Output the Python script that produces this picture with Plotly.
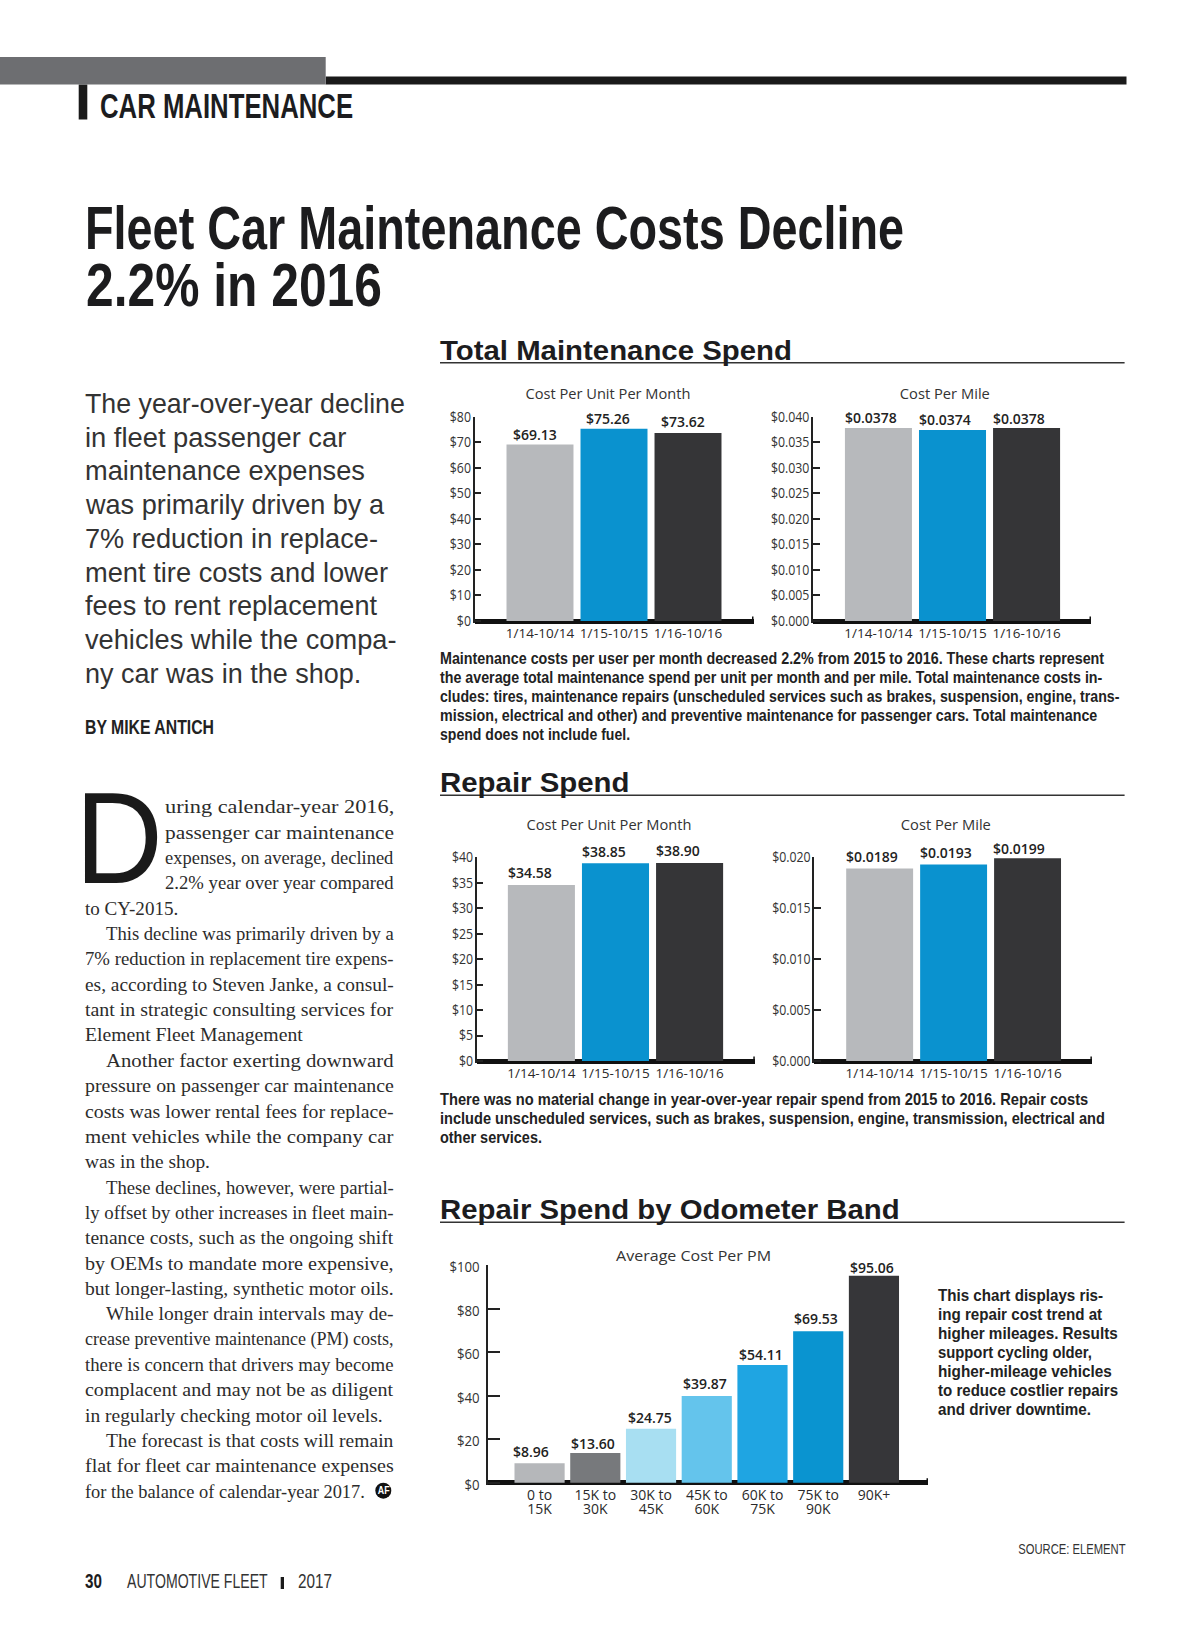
import json
import plotly.graph_objects as go

W, H = 1200, 1638

# ---------- data ----------
period_labels = ["1/14-10/14", "1/15-10/15", "1/16-10/16"]
total_unit_values = [69.13, 75.26, 73.62]
total_unit_labels = ["$69.13", "$75.26", "$73.62"]
total_mile_values = [0.0378, 0.0374, 0.0378]
total_mile_labels = ["$0.0378", "$0.0374", "$0.0378"]
repair_unit_values = [34.58, 38.85, 38.90]
repair_unit_labels = ["$34.58", "$38.85", "$38.90"]
repair_mile_values = [0.0189, 0.0193, 0.0199]
repair_mile_labels = ["$0.0189", "$0.0193", "$0.0199"]
band_labels = ["0 to<br>15K", "15K to<br>30K", "30K to<br>45K", "45K to<br>60K", "60K to<br>75K", "75K to<br>90K", "90K+"]
band_values = [8.96, 13.60, 24.75, 39.87, 54.11, 69.53, 95.06]
band_value_labels = ["$8.96", "$13.60", "$24.75", "$39.87", "$54.11", "$69.53", "$95.06"]

total_unit_ticks = [0, 10, 20, 30, 40, 50, 60, 70, 80]
total_mile_ticks = [0, 0.005, 0.01, 0.015, 0.02, 0.025, 0.03, 0.035, 0.04]
repair_unit_ticks = [0, 5, 10, 15, 20, 25, 30, 35, 40]
repair_mile_ticks = [0, 0.005, 0.01, 0.015, 0.02]
band_ticks = [0, 20, 40, 60, 80, 100]

GREY, BLUE, DARK = "#b7b9bc", "#0a92cf", "#353537"
period_colors = [GREY, BLUE, DARK]
band_colors = ["#b5b7ba", "#77797c", "#a8dff2", "#64c4ec", "#1fa5e2", "#0a94d0", "#363639"]

FULL = None
body_lines = [
    (163.5, "uring calendar-year 2016,", FULL),
    (163.5, "passenger car maintenance", FULL),
    (163.5, "expenses, on average, declined", FULL),
    (163.5, "2.2% year over year compared", FULL),
    (84, "to CY-2015.", 93.3),
    (105, "This decline was primarily driven by a", FULL),
    (84, "7% reduction in replacement tire expens-", FULL),
    (84, "es, according to Steven Janke, a consul-", FULL),
    (84, "tant in strategic consulting services for", FULL),
    (84, "Element Fleet Management", 218.3),
    (105, "Another factor exerting downward", FULL),
    (84, "pressure on passenger car maintenance", FULL),
    (84, "costs was lower rental fees for replace-", FULL),
    (84, "ment vehicles while the company car", FULL),
    (84, "was in the shop.", 125),
    (105, "These declines, however, were partial-", FULL),
    (84, "ly offset by other increases in fleet main-", FULL),
    (84, "tenance costs, such as the ongoing shift", FULL),
    (84, "by OEMs to mandate more expensive,", FULL),
    (84, "but longer-lasting, synthetic motor oils.", FULL),
    (105, "While longer drain intervals may de-", FULL),
    (84, "crease preventive maintenance (PM) costs,", FULL),
    (84, "there is concern that drivers may become", FULL),
    (84, "complacent and may not be as diligent", FULL),
    (84, "in regularly checking motor oil levels.", 297.7),
    (105, "The forecast is that costs will remain", FULL),
    (84, "flat for fleet car maintenance expenses", FULL),
    (84, "for the balance of calendar-year 2017.", 280),
]
deck_lines = [
    ("The year-over-year decline", 320), ("in fleet passenger car", 261.4), ("maintenance expenses", 280),
    ("was primarily driven by a", 300), ("7% reduction in replace-", 293), ("ment tire costs and lower", 303),
    ("fees to rent replacement", 292.4), ("vehicles while the compa-", 311.4), ("ny car was in the shop.", 276.4),
]
caption_a = [
    ("Maintenance costs per user per month decreased 2.2% from 2015 to 2016. These charts represent", 663),
    ("the average total maintenance spend per unit per month and per mile. Total maintenance costs in-", 661),
    ("cludes: tires, maintenance repairs (unscheduled services such as brakes, suspension, engine, trans-", 678),
    ("mission, electrical and other) and preventive maintenance for passenger cars. Total maintenance", 656),
    ("spend does not include fuel.", 189),
]
caption_b = [
    ("There was no material change in year-over-year repair spend from 2015 to 2016. Repair costs", 647),
    ("include unscheduled services, such as brakes, suspension, engine, transmission, electrical and", 664),
    ("other services.", 101),
]
side_lines = [
    ("This chart displays ris-", 165), ("ing repair cost trend at", 164), ("higher mileages. Results", 180),
    ("support cycling older,", 154), ("higher-mileage vehicles", 174), ("to reduce costlier repairs", 180),
    ("and driver downtime.", 153),
]

# ---------- helpers ----------
SANS = "Liberation Sans"
SERIF = "Liberation Serif"
CHART = "Open Sans"
INK = "#1c1c1e"

fig = go.Figure()
annotations, shapes = [], []
layout = {}
fit_widths = {}


def px(x):
    return x / W


def py(y):
    return 1 - y / H


def text(x, y, s, size, family=SANS, weight=400, color=INK, anchor="left", w=None):
    annotations.append(dict(
        xref="paper", yref="paper", x=px(x), y=py(y), text=s, showarrow=False,
        xanchor=anchor, yanchor="middle", align=anchor, borderpad=0,
        font=dict(family=family, size=size, color=color, weight=weight),
    ))
    if w:
        fit_widths[len(annotations) - 1] = [w, anchor]


def rect(x0, y0, x1, y1, color):
    shapes.append(dict(type="rect", xref="paper", yref="paper", x0=px(x0), x1=px(x1),
                       y0=py(y0), y1=py(y1), fillcolor=color, line=dict(width=0)))


def chart(n, left, right, top, zero, cats, vals, labels, colors, ticks, tickfmt, xrange,
          bar_w, dx, dy, tick_len=7, tick_size=14, cat_size=13.5, cat_weight=400, y_standoff=-1):
    sx = "" if n == 1 else str(n)
    pad = 2
    ppu = (zero - top) / max(ticks)
    fig.add_trace(go.Bar(
        x=list(range(len(cats))), y=vals, width=bar_w, marker=dict(color=colors, line=dict(width=0)),
        xaxis="x" + sx, yaxis="y" + sx, showlegend=False, cliponaxis=False, hoverinfo="skip",
    ))
    layout["xaxis" + sx] = dict(
        domain=[px(left), px(right)], range=list(xrange), anchor="y" + sx, automargin=False,
        tickmode="array", tickvals=list(range(len(cats))), ticktext=cats,
        showline=False, showgrid=False, zeroline=False, ticks="", ticklabelstandoff=0,
        tickfont=dict(family=CHART, size=cat_size, color="#2a2a2a", weight=cat_weight), tickangle=0,
        fixedrange=True,
    )
    layout["yaxis" + sx] = dict(
        domain=[py(zero + pad), py(top)], range=[-pad / ppu, max(ticks)], anchor="x" + sx, automargin=False,
        tickmode="array", tickvals=ticks, ticktext=[tickfmt(t) for t in ticks],
        showline=True, linecolor="#222", linewidth=1.5, showgrid=False,
        zeroline=True, zerolinecolor="#111", zerolinewidth=4.5,
        ticks="inside", ticklen=tick_len, tickwidth=1.5, tickcolor="#222",
        ticklabelstandoff=y_standoff,
        tickfont=dict(family=CHART, size=tick_size, color="#333"), fixedrange=True,
    )
    for i, (v, lab) in enumerate(zip(vals, labels)):
        annotations.append(dict(
            xref="x" + sx, yref="y" + sx, x=i, y=v, text=lab, showarrow=False,
            xanchor="center", yanchor="middle", xshift=dx[i], yshift=dy[i], borderpad=0,
            font=dict(family=CHART, size=14, color="#222", weight=600),
        ))
    rect(right - 1.5, zero - 4.5, right, zero + 2, "#111")


money0 = lambda t: f"${t:.0f}"
money3 = lambda t: f"${t:.3f}"

# ---------- charts ----------
chart(1, 474.5, 753.5, 416.7, 621, period_labels, total_unit_values, total_unit_labels, period_colors,
      total_unit_ticks, money0, (-0.885, 2.885), 0.905, [-5, -6.5, -5], [10, 10, 11])
chart(2, 812.9, 1091, 416.7, 621, period_labels, total_mile_values, total_mile_labels, period_colors,
      total_mile_ticks, money3, (-0.885, 2.87), 0.905, [-7.5, -7.5, -8], [10, 10, 9])
chart(3, 476.7, 754.8, 857.3, 1061, period_labels, repair_unit_values, repair_unit_labels, period_colors,
      repair_unit_ticks, money0, (-0.873, 2.88), 0.905, [-11.5, -11.5, -12], [12, 11.5, 12])
chart(4, 814.2, 1091.9, 857.3, 1061, period_labels, repair_mile_values, repair_mile_labels, period_colors,
      repair_mile_ticks, money3, (-0.885, 2.87), 0.905, [-7.5, -8, -8.5], [12, 11.5, 9.5])
chart(5, 488.3, 928, 1265, 1482.7, band_labels, band_values, band_value_labels, band_colors,
      band_ticks, money0, (-0.92, 6.97), 0.9, [-9, -2, -1, -2, -1.5, -2, -2], [11.5, 10, 11.5, 12, 10, 12.5, 8],
      tick_len=12, tick_size=15, cat_size=14, cat_weight=500, y_standoff=4)

text(607.5, 393, "Cost Per Unit Per Month", 14, CHART, color="#333", anchor="center", w=165)
text(945, 393, "Cost Per Mile", 14, CHART, color="#333", anchor="center", w=90)
text(608.8, 824, "Cost Per Unit Per Month", 14, CHART, color="#333", anchor="center", w=165)
text(946.3, 824, "Cost Per Mile", 14, CHART, color="#333", anchor="center", w=90)
text(693.7, 1254.5, "Average Cost Per PM", 15, CHART, color="#333", anchor="center", w=155)

# ---------- page furniture ----------
rect(325.7, 76.6, 1126.5, 84.6, "#1a1a1a")
rect(0, 57, 325.7, 84.6, "#6d6e71")
rect(78.7, 84.6, 87.3, 119.5, "#1a1a1a")
text(99, 106, "CAR MAINTENANCE", 35, SANS, 700, w=253)
text(84, 228, "Fleet Car Maintenance Costs Decline", 61, SANS, 700, w=819)
text(84.5, 285, "2.2% in 2016", 61, SANS, 700, w=296)

for i, (s, w) in enumerate(deck_lines):
    text(84, 403.8 + 33.75 * i, s, 27, SANS, color="#333", w=w)
text(84, 726, "BY MIKE ANTICH", 21, SANS, 700, color="#222", w=129)

text(74, 838, "D", 129, SANS, color="#1a1a1a", w=88)
for i, (x, s, w) in enumerate(body_lines):
    text(x, 807.3 + 25.35 * i, s, 18.5, SERIF, color="#2c2c2c", w=w or 392.7 - x)
shapes.append(dict(type="circle", xref="paper", yref="paper", x0=px(375.3), x1=px(391.3),
                   y0=py(1482.7), y1=py(1498.7), fillcolor="#111", line=dict(width=0)))
text(383.3, 1490.7, "AF", 10, SANS, 700, color="#fff", anchor="center", w=12)

text(83.5, 1581.3, "30", 20, SANS, 700, w=17)
text(125.5, 1581.3, "AUTOMOTIVE FLEET", 20, SANS, color="#333", w=141)
rect(280.7, 1577, 284, 1589, "#1a1a1a")
text(297, 1581.3, "2017", 20, SANS, color="#333", w=34)

for x, y, s, ry, w in [(439, 350, "Total Maintenance Spend", 362.7, 352), (439, 782, "Repair Spend", 795.3, 189.5),
                       (439, 1209.5, "Repair Spend by Odometer Band", 1222.3, 459.6)]:
    text(x, y, s, 28, SANS, 700, w=w)
    rect(440, ry - 0.8, 1124.6, ry + 0.8, "#333")

for i, (s, w) in enumerate(caption_a):
    text(439, 658 + 19.2 * i, s, 16, SANS, 700, color="#222", w=w + 1)
for i, (s, w) in enumerate(caption_b):
    text(439, 1099.5 + 19.2 * i, s, 16, SANS, 700, color="#222", w=w + 1)
for i, (s, w) in enumerate(side_lines):
    text(937, 1295.3 + 19.1 * i, s, 16, SANS, 700, color="#222", w=w)
text(1126.5, 1549, "SOURCE: ELEMENT", 14.5, SANS, color="#333", anchor="right", w=107.5)

fig.update_layout(
    width=W, height=H, margin=dict(l=0, r=0, t=0, b=0), paper_bgcolor="white", plot_bgcolor="white",
    showlegend=False, annotations=annotations, shapes=shapes, **layout,
)

# The page's type is condensed, so each text line is fitted to its measured width.
post_script = """
document.body.style.margin = '0';
var gd = document.getElementById('{plot_id}');
var fits = %s;
function fitText() {
  document.querySelectorAll('g.annotation').forEach(function (g) {
    var f = fits[g.getAttribute('data-index')];
    var t = g.querySelector('text');
    if (!f || !t) return;
    var b = t.getBBox();
    var o = f[1] === 'left' ? b.x : (f[1] === 'right' ? b.x + b.width : b.x + b.width / 2);
    t.setAttribute('transform', 'translate(' + o + ',0) scale(' + (f[0] / b.width) + ',1) translate(' + (-o) + ',0)');
  });
  document.querySelectorAll('.yaxislayer-above text').forEach(function (t) {
    if (!t.hasAttribute('data-base')) t.setAttribute('data-base', t.getAttribute('transform') || '');
    var b = t.getBBox(), o = b.x + b.width;
    var down = t.parentNode.classList.contains('y5tick') ? 2 : 0;
    t.setAttribute('transform', t.getAttribute('data-base') + ' translate(' + o + ',' + down + ') scale(0.88,1) translate(' + (-o) + ',0)');
  });
  document.querySelectorAll('.xaxislayer-above tspan.line').forEach(function (s) {
    if (parseFloat(s.getAttribute('dy')) > 1) s.setAttribute('dy', '1em');
  });
}
fitText();
setTimeout(fitText, 100);
gd.on('plotly_afterplot', fitText);
""" % json.dumps(fit_widths)

fig.write_html("out.html", post_script=post_script, config={"displayModeBar": False})
